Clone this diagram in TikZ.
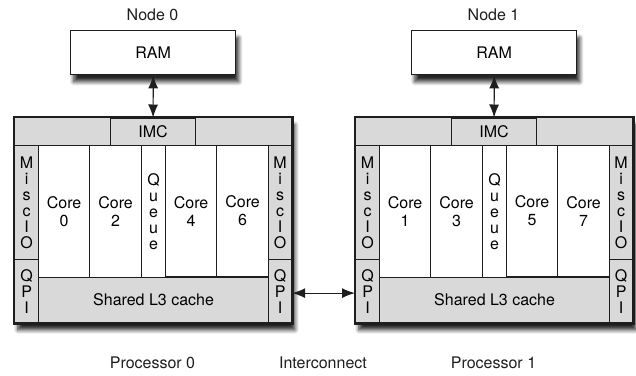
\documentclass[tikz,border=0pt]{standalone}
\usepackage{fontspec}
\setmainfont{TeX Gyre Heros}
\usetikzlibrary{arrows.meta,shadows.blur}
\definecolor{chipink}{HTML}{1E1E1E}
\definecolor{chipgray}{HTML}{D9D9D9}
\tikzset{
  chip font/.style={font=\fontsize{16}{16}\selectfont},
  chip shadow/.style={blur shadow={shadow xshift=3pt, shadow yshift=-7pt,
      shadow blur radius=4pt, shadow blur steps=8, shadow opacity=85}},
  ram box/.style={draw=chipink, line width=1.4pt, fill=white,
    anchor=north west, inner sep=0pt, chip font, chip shadow},
  chip box/.style={draw=chipink, line width=1.8pt, fill=white,
    anchor=north west, inner sep=0pt, chip shadow},
  chip part/.style={draw=chipink, line width=1.2pt, fill=chipgray,
    anchor=north west, inner sep=0pt, align=center, chip font},
  core part/.style={chip part, fill=white},
  chip link/.style={draw=chipink, line width=1.2pt,
    {Latex[length=13pt,width=10pt]}-{Latex[length=13pt,width=10pt]}},
  chip label/.style={chip font, text=chipink},
}

\begin{document}
\begin{tikzpicture}[x=1pt, y=-1pt]
  \useasboundingbox (0,0) rectangle (636,375);

  % Processor 0 with its memory node.
  \begin{scope}[shift={(0,0)}]
    \node[chip label] (node0) at (152.5,15) {Node 0};
    \node[ram box, minimum width=165pt, minimum height=44pt] (ram0)
      at (70,30) {RAM};
    \node[chip box, minimum width=277pt, minimum height=205pt] (proc0)
      at (14,117) {};
    \node[chip part, minimum width=277pt, minimum height=28pt] (band0)
      at (14,117) {};
    \node[chip part, minimum width=85pt, minimum height=27.5pt] (imc0)
      at (110,117.5) {IMC};
    \node[chip part, minimum width=24pt, minimum height=114pt] (misc0l)
      at (14,145) {M\\i\\s\\c\\I\\O};
    \node[chip part, minimum width=24pt, minimum height=63pt] (qpi0l)
      at (14,259) {Q\\P\\I};
    \node[core part, minimum width=51pt, minimum height=132pt] (core0)
      at (38,145) {Core\\[2pt]0};
    \node[core part, minimum width=52pt, minimum height=132pt] (core2)
      at (89,145) {Core\\[2pt]2};
    \node[core part, minimum width=24pt, minimum height=132pt] (queue0)
      at (141,145) {Q\\u\\e\\u\\e};
    \node[core part, minimum width=51pt, minimum height=131pt] (core4)
      at (165,145) {Core\\[2pt]4};
    \node[core part, minimum width=52pt, minimum height=131pt] (core6)
      at (216,145) {Core\\[2pt]6};
    \node[chip part, minimum width=230pt, minimum height=45pt] (l3_0)
      at (38,277) {Shared L3 cache};
    \node[chip part, minimum width=23pt, minimum height=114pt] (misc0r)
      at (268,145) {M\\i\\s\\c\\I\\O};
    \node[chip part, minimum width=23pt, minimum height=63pt] (qpi0r)
      at (268,259) {Q\\P\\I};
    \draw[chipink, line width=1.8pt] (proc0.north west) rectangle (proc0.south east);
    \draw[chip link] (ram0.south) -- (imc0.north);
    \node[chip label] (name0) at (152.5,363) {Processor 0};
  \end{scope}

  % Processor 1, same layout moved to the right.
  \begin{scope}[shift={(341,0)}]
    \node[chip label] (node1) at (152.5,15) {Node 1};
    \node[ram box, minimum width=165pt, minimum height=44pt] (ram1)
      at (70,30) {RAM};
    \node[chip box, minimum width=277pt, minimum height=205pt] (proc1)
      at (14,117) {};
    \node[chip part, minimum width=277pt, minimum height=28pt] (band1)
      at (14,117) {};
    \node[chip part, minimum width=85pt, minimum height=27.5pt] (imc1)
      at (110,117.5) {IMC};
    \node[chip part, minimum width=24pt, minimum height=114pt] (misc1l)
      at (14,145) {M\\i\\s\\c\\I\\O};
    \node[chip part, minimum width=24pt, minimum height=63pt] (qpi1l)
      at (14,259) {Q\\P\\I};
    \node[core part, minimum width=51pt, minimum height=132pt] (core1)
      at (38,145) {Core\\[2pt]1};
    \node[core part, minimum width=52pt, minimum height=132pt] (core3)
      at (89,145) {Core\\[2pt]3};
    \node[core part, minimum width=24pt, minimum height=132pt] (queue1)
      at (141,145) {Q\\u\\e\\u\\e};
    \node[core part, minimum width=51pt, minimum height=131pt] (core5)
      at (165,145) {Core\\[2pt]5};
    \node[core part, minimum width=52pt, minimum height=131pt] (core7)
      at (216,145) {Core\\[2pt]7};
    \node[chip part, minimum width=230pt, minimum height=45pt] (l3_1)
      at (38,277) {Shared L3 cache};
    \node[chip part, minimum width=23pt, minimum height=114pt] (misc1r)
      at (268,145) {M\\i\\s\\c\\I\\O};
    \node[chip part, minimum width=23pt, minimum height=63pt] (qpi1r)
      at (268,259) {Q\\P\\I};
    \draw[chipink, line width=1.8pt] (proc1.north west) rectangle (proc1.south east);
    \draw[chip link] (ram1.south) -- (imc1.north);
    \node[chip label] (name1) at (152.5,363) {Processor 1};
  \end{scope}

  % QPI link between the two sockets.
  \draw[chip link] ([yshift=-2pt]qpi0r.east) -- ([yshift=-2pt]qpi1l.west);
  \node[chip label] (link) at (323,363) {Interconnect};
\end{tikzpicture}
\end{document}
